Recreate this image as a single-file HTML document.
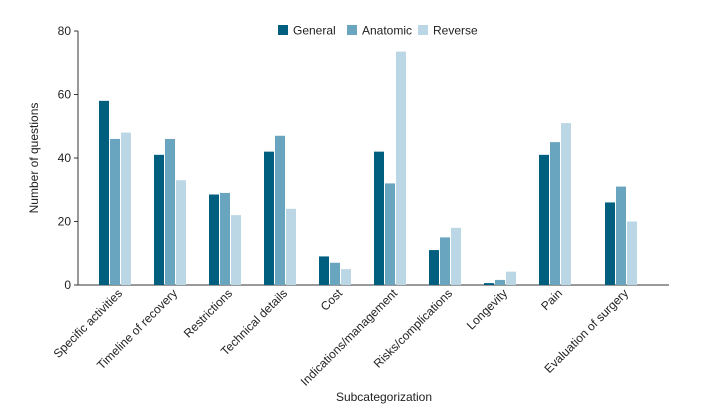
<!DOCTYPE html>
<html><head><meta charset="utf-8"><style>
html,body{margin:0;padding:0;background:#fff;}
svg{display:block;font-family:"Liberation Sans",sans-serif;}
</style></head><body>
<svg id="chart" width="709" height="417"></svg>
<script>
const categories=["Specific activities","Timeline of recovery","Restrictions","Technical details","Cost","Indications/management","Risks/complications","Longevity","Pain","Evaluation of surgery"];
const seriesNames=["General","Anatomic","Reverse"];
const generalVals=[58,41,28.5,42,9,42,11,0.6,41,26];
const anatomicVals=[46,46,29,47,7,32,15,1.6,45,31];
const reverseVals=[48,33,22,24,5,73.5,18,4.2,51,20];
const yTicks=[0,20,40,60,80];
const colors=["#005f7f","#6aa5c0","#bbd7e5"];
const NS="http://www.w3.org/2000/svg";
const svg=document.getElementById('chart');
const y0=285,yTop=31,yMax=80;
const y=v=>y0-(v/yMax)*(y0-yTop);
const x=i=>115+55*i+(i===categories.length-1?11:0);
function mk(t,a){const e=document.createElementNS(NS,t);for(const k in a)e.setAttribute(k,a[k]);svg.appendChild(e);return e;}
// axes
let ax=mk('line',{x1:78,y1:yTop,x2:78,y2:y0,stroke:'#333','stroke-width':1});


let bx=mk('line',{x1:78,y1:y0,x2:669,y2:y0,stroke:'#333','stroke-width':1});


yTicks.forEach(t=>{
  const tk=mk('line',{x1:74,y1:y(t),x2:78,y2:y(t),stroke:'#333'});
  
  
  const lb=mk('text',{x:71,y:y(t)+4,'text-anchor':'end','font-size':12,fill:'#222'});
  lb.textContent=t;
  
  
});
const all=[generalVals,anatomicVals,reverseVals];
const bw=10,gap=1;
categories.forEach((c,i)=>{
  all.forEach((vals,s)=>{
    const bxp=x(i)-16+s*(bw+gap);
    const r=mk('rect',{x:bxp,y:y(vals[i]),width:bw,height:y0-y(vals[i]),fill:colors[s]});
    
    
  });
  const tx=x(i)+8,ty=294;
  const l=mk('text',{x:tx,y:ty,'text-anchor':'end','font-size':12,fill:'#222',transform:`rotate(-45 ${tx} ${ty})`});
  l.textContent=c;
  
  
});
const yt=mk('text',{x:38,y:158,'text-anchor':'middle','font-size':12,fill:'#222',transform:'rotate(-90 38 158)'});
yt.textContent='Number of questions';


const xt=mk('text',{x:384,y:401,'text-anchor':'middle','font-size':12,fill:'#222'});
xt.textContent='Subcategorization';


const legX=[278,347,418];
seriesNames.forEach((n,s)=>{
  const sq=mk('rect',{x:legX[s],y:25,width:10,height:10,fill:colors[s]});
  
  
  const t=mk('text',{x:legX[s]+15,y:34.5,'font-size':12,fill:'#222'});
  t.textContent=n;
  
  
});
</script>
</body></html>
